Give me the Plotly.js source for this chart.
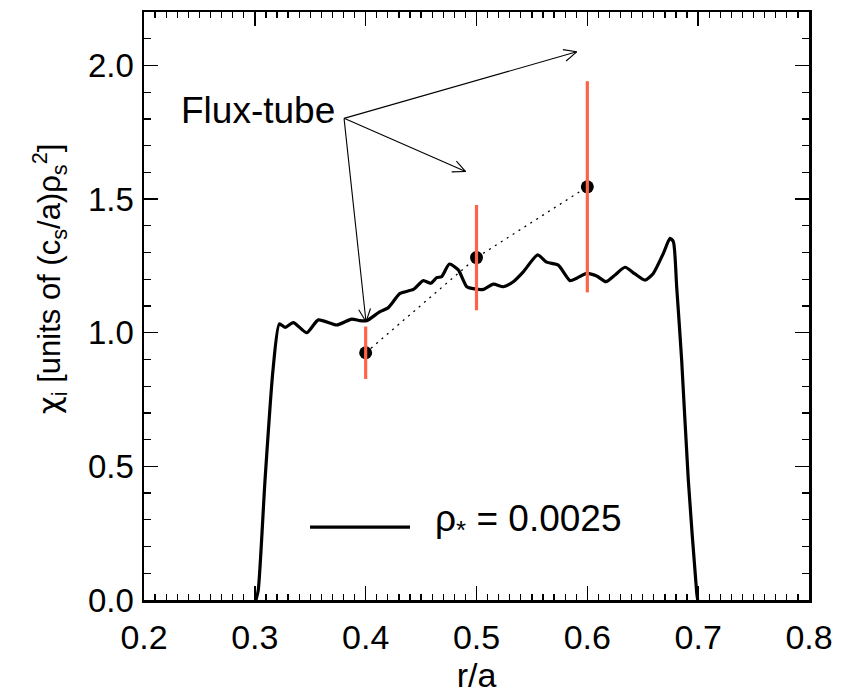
<!DOCTYPE html>
<html>
<head>
<meta charset="utf-8">
<script src="https://cdn.plot.ly/plotly-3.0.1.min.js"></script>
<style>html,body{margin:0;padding:0;background:#fff;}#chart{width:846px;height:694px;}</style>
</head>
<body>
<div id="chart"></div>
<script>
// Global simulation profile (rho* = 0.0025)
const profileX = [0.301, 0.3031, 0.3092, 0.3164, 0.3221, 0.3272, 0.3347, 0.3468, 0.3573, 0.3739, 0.3874, 0.3949, 0.4009, 0.4129, 0.4202, 0.4310, 0.4430, 0.4520, 0.4587, 0.4641, 0.4686, 0.4755, 0.4836, 0.4912, 0.4971, 0.5061, 0.5152, 0.5242, 0.5332, 0.5422, 0.5552, 0.5633, 0.5738, 0.5844, 0.5904, 0.5994, 0.6085, 0.6168, 0.6250, 0.6340, 0.6430, 0.6520, 0.6595, 0.6686, 0.6746, 0.6776, 0.6806, 0.6851, 0.6911, 0.6987, 0.6996];
const profileY = [0.0, 0.037, 0.449, 0.861, 1.033, 1.020, 1.038, 1.000, 1.048, 1.029, 1.051, 1.045, 1.045, 1.079, 1.093, 1.147, 1.162, 1.195, 1.185, 1.206, 1.210, 1.257, 1.235, 1.172, 1.165, 1.162, 1.182, 1.172, 1.191, 1.228, 1.291, 1.264, 1.253, 1.195, 1.204, 1.222, 1.212, 1.191, 1.216, 1.245, 1.220, 1.197, 1.222, 1.297, 1.353, 1.341, 1.172, 0.898, 0.449, 0.026, 0.0];
const profileName = "ρ<sub>*</sub> = 0.0025";

// Flux-tube results
const fluxX = [0.4, 0.5, 0.6];
const fluxY = [0.925, 1.281, 1.546];
const fluxErr = [0.098, 0.197, 0.395];

// Annotation arrows: origin and tips (data coordinates)
const arrowOrigin = [0.3805, 1.802];
const arrowTipsX = [0.5904, 0.4902, 0.4003];
const arrowTipsY = [2.051, 1.603, 1.041];

// Axis ticks
const xTicks = [0.2, 0.3, 0.4, 0.5, 0.6, 0.7, 0.8];
const xTickText = ["0.2", "0.3", "0.4", "0.5", "0.6", "0.7", "0.8"];
const yTicks = [0.0, 0.5, 1.0, 1.5, 2.0];
const yTickText = ["0.0", "0.5", "1.0", "1.5", "2.0"];
const yTitle = '<span style="font-family:DejaVu Sans">χ</span><sub>i</sub> [units of (c<sub>s</sub>/a)ρ<sub>s</sub><sup>2</sup>]';

const FONT = "Liberation Sans, Arial, Helvetica, sans-serif";
const xRange = [0.2, 0.8], yRange = [0, 2.2];
const M = {l: 144, r: 37, t: 12, b: 94};
const W = 846, H = 694;
const pxX = (W - M.l - M.r) / (xRange[1] - xRange[0]);
const pxY = (H - M.t - M.b) / (yRange[1] - yRange[0]);

const traces = [
  {x: profileX, y: profileY, type: 'scatter', mode: 'lines', name: profileName,
   line: {color: 'black', width: 3.2, shape: 'spline', smoothing: 0.6}, showlegend: false, hoverinfo: 'skip'},
  {x: fluxX, y: fluxY, type: 'scatter', mode: 'lines', line: {color: 'black', width: 1.3, dash: '2px,5px'},
   showlegend: false, hoverinfo: 'skip'},
  {x: fluxX, y: fluxY, type: 'scatter', mode: 'markers', marker: {color: 'black', size: 13},
   showlegend: false},
  {x: fluxX, y: fluxY, type: 'scatter', mode: 'markers', marker: {color: 'rgba(0,0,0,0)', size: 1},
   error_y: {type: 'data', array: fluxErr, visible: true, color: '#ff6347', thickness: 3.2, width: 0},
   showlegend: false}
];

const shapes = [];
for (let i = 0; i < arrowTipsX.length; i++) {
  const tx = arrowTipsX[i], ty = arrowTipsY[i];
  shapes.push({type: 'line', xref: 'x', yref: 'y', x0: arrowOrigin[0], y0: arrowOrigin[1], x1: tx, y1: ty,
    line: {color: 'black', width: 1.1}});
  let dx = (tx - arrowOrigin[0]) * pxX, dy = (ty - arrowOrigin[1]) * pxY;
  const L = Math.hypot(dx, dy); dx /= L; dy /= L;
  const hl = 14, ang = 25 * Math.PI / 180;
  [ang, -ang].forEach(a => {
    const bx = -dx, by = -dy;
    const rx = bx * Math.cos(a) - by * Math.sin(a);
    const ry = bx * Math.sin(a) + by * Math.cos(a);
    shapes.push({type: 'line', xref: 'x', yref: 'y', xsizemode: 'pixel', ysizemode: 'pixel',
      xanchor: tx, yanchor: ty, x0: 0, y0: 0, x1: rx * hl, y1: ry * hl,
      line: {color: 'black', width: 1.1}});
  });
}
shapes.push({type: 'line', xref: 'x', yref: 'y', x0: 0.3498, x1: 0.44, y0: 0.273, y1: 0.273,
  line: {color: 'black', width: 3.2}});

const layout = {
  width: W, height: H,
  margin: M,
  paper_bgcolor: 'white', plot_bgcolor: 'white',
  font: {family: FONT, color: 'black', size: 33},
  showlegend: false,
  xaxis: {
    range: xRange, tickvals: xTicks, ticktext: xTickText,
    ticks: 'inside', ticklen: 14, tickwidth: 1.5, tickcolor: 'black',
    showline: true, linewidth: 2.5, linecolor: 'black', mirror: 'allticks',
    showgrid: false, zeroline: false,
    minor: {dtick: 0.01, ticks: 'inside', ticklen: 6, tickwidth: 1.2, tickcolor: 'black', showgrid: false},
    tickfont: {size: 34, family: FONT}, ticklabelstandoff: 6,
    title: {text: 'r/a', font: {size: 34, family: FONT}, standoff: 2}
  },
  yaxis: {
    range: yRange, tickvals: yTicks, ticktext: yTickText,
    ticks: 'inside', ticklen: 14, tickwidth: 1.5, tickcolor: 'black',
    showline: true, linewidth: 2.5, linecolor: 'black', mirror: 'allticks',
    showgrid: false, zeroline: false,
    minor: {dtick: 0.1, ticks: 'inside', ticklen: 7, tickwidth: 1.2, tickcolor: 'black', showgrid: false},
    tickfont: {size: 33, family: FONT}, ticklabelstandoff: 1
  },
  shapes: shapes,
  annotations: [
    {x: -0.141, y: 0.546, xref: 'paper', yref: 'paper', text: yTitle, showarrow: false, textangle: -90,
     xanchor: 'center', yanchor: 'middle', font: {size: 31, family: FONT}},
    {x: 0.2319, y: 1.833, xref: 'x', yref: 'y', text: 'Flux-tube', showarrow: false,
     xanchor: 'left', yanchor: 'middle', font: {size: 37, family: FONT}},
    {x: 0.4604, y: 0.297, xref: 'x', yref: 'y', text: profileName, showarrow: false,
     xanchor: 'left', yanchor: 'middle', font: {size: 37, family: FONT}}
  ]
};

Plotly.newPlot('chart', traces, layout, {staticPlot: true, displayModeBar: false});
</script>
</body>
</html>
